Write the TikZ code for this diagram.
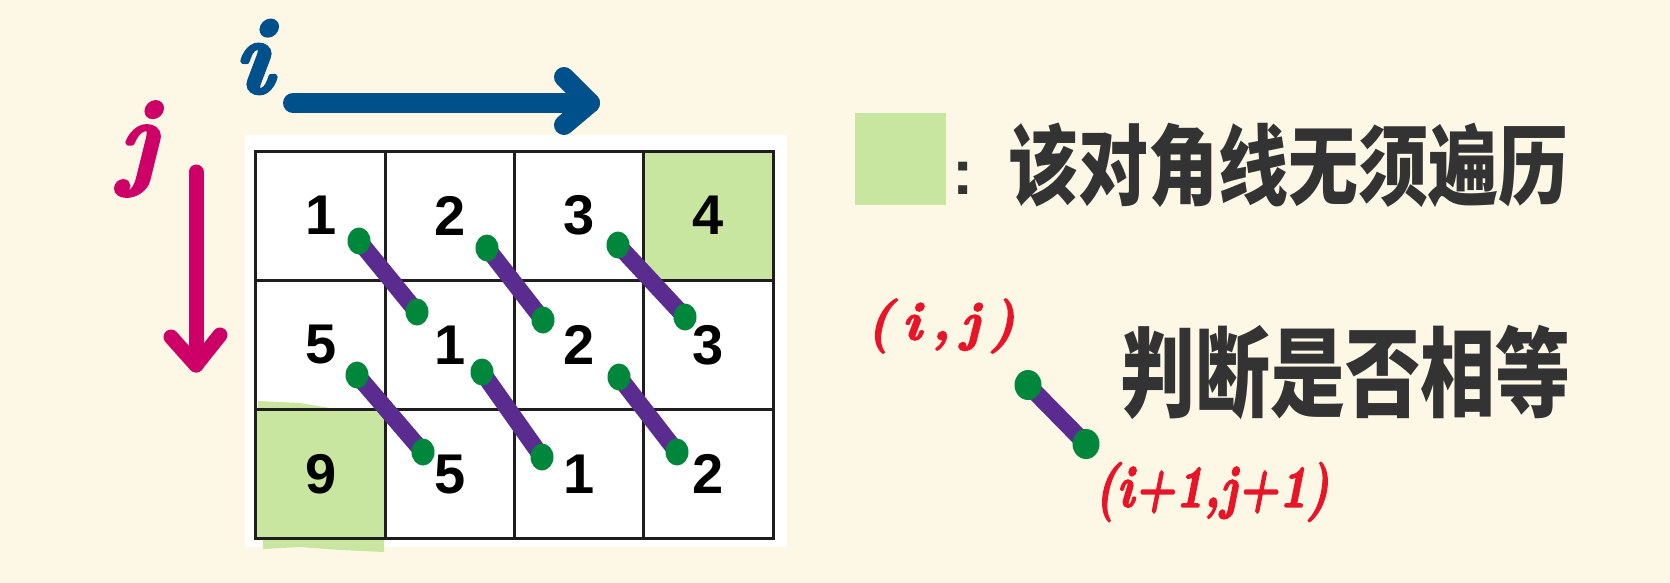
\documentclass[tikz,border=0pt]{standalone}
\usepackage{fontspec}
\usepackage{graphicx}
\usetikzlibrary{shapes.geometric}
\newfontfamily\numfont{Liberation Sans}
\newfontfamily\cjkfont{Noto Sans CJK SC}
\newfontfamily\handfont{lmroman10-bolditalic.otf}[FakeBold=3]
\definecolor{bgc}{HTML}{FDF8E6}
\definecolor{hl}{HTML}{C8E6A0}
\definecolor{iblue}{HTML}{00508C}
\definecolor{jpink}{HTML}{CC0066}
\definecolor{lred}{HTML}{E81428}
\definecolor{pline}{HTML}{5B2C8F}
\definecolor{gdotc}{HTML}{00873C}
\definecolor{txtgray}{HTML}{333333}
\definecolor{gridc}{HTML}{1E1E1E}
\begin{document}
\begin{tikzpicture}[x=0.5pt,y=-0.5pt,
  cell/.style={draw=gridc,line width=1.5pt,minimum width=64.625pt,minimum height=64.67pt,inner sep=0pt,
    font=\numfont\bfseries\fontsize{28}{28}\selectfont,text=black},
  purp/.style={draw=pline,line width=8.5pt,line cap=round},
  gdot/.style={ellipse,fill=gdotc,inner sep=0pt,minimum width=11.5pt,minimum height=13.5pt},
  bigdot/.style={ellipse,fill=gdotc,inner sep=0pt,minimum width=13.5pt,minimum height=15pt},
  bluearr/.style={draw=iblue,line width=10pt,line cap=round,line join=round},
  pinkarr/.style={draw=jpink,line width=7.5pt,line cap=round,line join=round},
  cjk/.style={text=txtgray,inner sep=0pt},
  redlab/.style={text=lred,inner sep=0pt}]
\useasboundingbox (0,0) rectangle (1670,583);
\fill[bgc] (0,0) rectangle (1670,583);
% white panel
\fill[white] (245,135) rectangle (787,547);
% highlight streaks around cell 9
\fill[hl] (258,401) -- (300,403) -- (330,408) -- (330,412) -- (258,412) -- cycle;
\fill[hl] (263,537) -- (384,537) -- (384,552) -- (340,550) -- (300,547) -- (263,549) -- cycle;
% grid cells
\node[cell] (c11) at (320.6,215.7) {1};
\node[cell] (c12) at (449.9,215.7) {2};
\node[cell] (c13) at (579.1,215.7) {3};
\node[cell,fill=hl] (c14) at (708.4,215.7) {4};
\node[cell] (c21) at (320.6,345) {5};
\node[cell] (c22) at (449.9,345) {1};
\node[cell] (c23) at (579.1,345) {2};
\node[cell] (c24) at (708.4,345) {3};
\node[cell,fill=hl] (c31) at (320.6,474.3) {9};
\node[cell] (c32) at (449.9,474.3) {5};
\node[cell] (c33) at (579.1,474.3) {1};
\node[cell] (c34) at (708.4,474.3) {2};
% diagonal comparisons
\coordinate (a1) at (359,241); \coordinate (b1) at (417,312);
\coordinate (a2) at (487,248); \coordinate (b2) at (543,320);
\coordinate (a3) at (618,245); \coordinate (b3) at (685,317);
\coordinate (a4) at (357,375); \coordinate (b4) at (423,452);
\coordinate (a5) at (482,372); \coordinate (b5) at (542,457);
\coordinate (a6) at (619,377); \coordinate (b6) at (677,452);
\foreach \k in {1,...,6}{\draw[purp] (a\k) -- (b\k);}
\foreach \k in {1,...,6}{\node[gdot] (da\k) at (a\k) {}; \node[gdot] (db\k) at (b\k) {};}
% i arrow
\coordinate (is) at (293,103); \coordinate (it) at (590,103);
\coordinate (ib1) at (564,77); \coordinate (ib2) at (564,125);
\draw[bluearr] (is) -- (it);
\draw[bluearr] (ib1) -- (it) -- (ib2);
\node[text=iblue,inner sep=0pt] (ilab) at (253,57) {\handfont\fontsize{54}{54}\selectfont i};
% j arrow
\coordinate (js) at (196,172); \coordinate (jt) at (196,365);
\coordinate (jb1) at (171,337); \coordinate (jb2) at (220,335);
\draw[pinkarr] (js) -- (jt);
\draw[pinkarr] (jb1) -- (jt) -- (jb2);
\node[text=jpink,inner sep=0pt] (jlab) at (138,149) {\handfont\fontsize{54}{54}\selectfont j};
% legend
\node[fill=hl,inner sep=0pt,minimum width=45.5pt,minimum height=46pt] (legend) at (900.5,159) {};
\node[text=txtgray,inner sep=0pt] (colon) at (963,178) {\numfont\bfseries\fontsize{32}{32}\selectfont :};
\node[cjk] (t1) at (1288,165) {\scalebox{1}[1.25]{\cjkfont\bfseries\fontsize{35}{35}\selectfont 该对角线无须遍历}};
\node[cjk] (t2) at (1345,372) {\scalebox{1}[1.3]{\cjkfont\bfseries\fontsize{37.5}{37.5}\selectfont 判断是否相等}};
% small example
\coordinate (la) at (1028,385); \coordinate (lb) at (1086,444);
\draw[purp] (la) -- (lb);
\node[bigdot] (dla) at (la) {};
\node[bigdot] (dlb) at (lb) {};
\node[redlab] (ij) at (941,326) {\handfont\fontsize{27}{27}\selectfont (\kern5pt i\kern5pt,\kern5pt j\kern5pt)};
\node[redlab] (ij1) at (1212,492) {\scalebox{0.8}[1]{\handfont\fontsize{29.5}{29.5}\selectfont (i+1,j+1)}};
\end{tikzpicture}
\end{document}
